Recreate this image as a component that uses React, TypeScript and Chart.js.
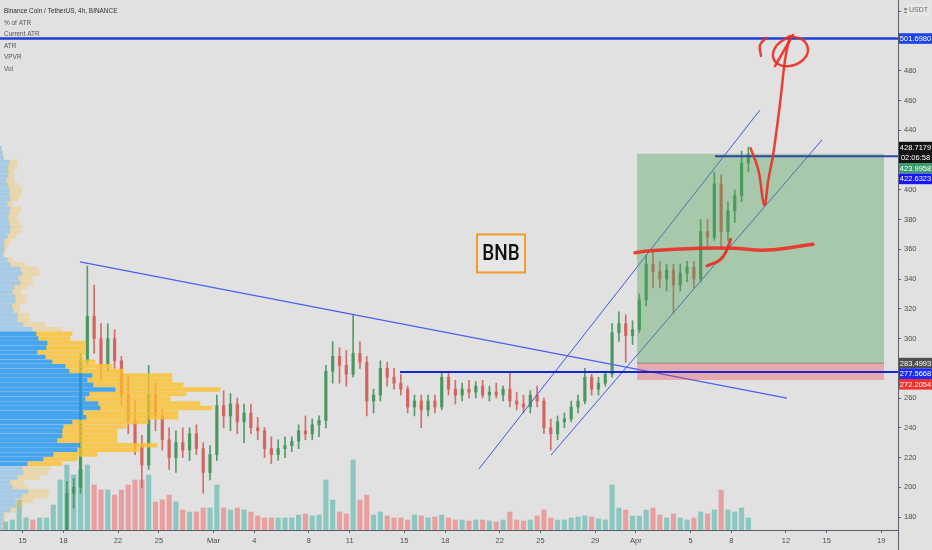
import React, { useEffect, useRef } from "react";
import { Chart, registerables } from "chart.js";

Chart.register(...registerables);

// ---------- time axis: days since 2021-02-13 00:00, one candle = 12h ----------
const X_MIN = 0.342;
const X_MAX = 66.226;
const FIRST_CANDLE_DAY = 0.75; // centre of first 12h candle
const CANDLE_DAYS = 0.5;

const X_TICK_DAYS = [2, 5, 9, 12, 16, 19, 23, 26, 30, 33, 37, 40, 44, 47, 51, 54, 58, 61, 65];
const X_TICK_LABELS = ["15", "18", "22", "25", "Mar", "4", "8", "11", "15", "18", "22", "25", "29", "Apr", "5", "8", "12", "15", "19"];

// ---------- price axis ----------
const PRICE_MIN = 171.3;
const PRICE_MAX = 527.6;
const PRICE_TICKS = [180, 200, 220, 240, 260, 280, 300, 320, 340, 360, 380, 400, 420, 440, 460, 480, 500, 520];

// ---------- BNB/USDT 12h OHLC ----------
const OPEN = [
  131, 134, 137, 139, 141, 138, 140, 146, 152, 163,
  196, 200, 285, 315, 300, 283, 300, 285, 262, 245,
  228, 215, 262, 248, 232, 220, 230, 225, 236, 226,
  210, 222, 255, 248, 256, 244, 250, 240, 238, 226,
  222, 226, 228, 231, 238, 236, 242, 245, 278, 288,
  282, 276, 290, 284, 258, 262, 280, 274, 270, 266,
  254, 258, 252, 258, 254, 274, 266, 262, 266, 264,
  268, 262, 264, 262, 266, 258, 256, 254, 262, 258,
  240, 236, 244, 246, 254, 258, 274, 266, 270, 276,
  304, 310, 302, 306, 326, 350, 345, 340, 346, 336,
  344, 348, 340, 372, 368, 404, 372, 386, 396, 418,
];
const HIGH = [
  136, 139, 141, 144, 145, 142, 148, 156, 166, 204,
  206, 290, 348.7, 336, 310, 310, 306, 288, 275, 258,
  235, 282, 270, 252, 240, 238, 240, 240, 242, 230,
  228, 262, 265, 263, 260, 256, 256, 247, 240, 234,
  232, 234, 234, 242, 248, 246, 248, 282, 298, 294,
  292, 316, 298, 288, 266, 285, 284, 280, 276, 268,
  262, 262, 262, 262, 277, 278, 272, 270, 272, 271,
  272, 268, 270, 268, 277, 264, 262, 265, 268, 260,
  246, 248, 250, 258, 262, 280, 276, 274, 278, 310,
  318, 316, 312, 330, 356, 360, 352, 350, 350, 350,
  352, 352, 380, 380, 412, 410, 392, 400, 426, 428.7179,
];
const LOW = [
  127, 130, 133, 135, 136, 133, 138, 144, 150, 160,
  186, 196, 283, 290, 272, 278, 280, 255, 236, 222,
  200, 212, 238, 225, 212, 210, 220, 218, 222, 196,
  205, 218, 240, 238, 236, 230, 236, 232, 220, 216,
  218, 220, 224, 226, 232, 232, 234, 240, 270, 270,
  268, 274, 280, 248, 250, 258, 268, 266, 262, 250,
  248, 240, 248, 250, 252, 262, 256, 258, 260, 260,
  260, 258, 260, 258, 254, 252, 250, 250, 254, 236,
  225, 232, 240, 244, 250, 256, 262, 262, 268, 274,
  298, 284, 296, 304, 322, 334, 334, 332, 317, 332,
  338, 334, 338, 362, 366, 360, 366, 378, 392, 412,
];
const CLOSE = [
  134, 137, 139, 141, 138, 140, 146, 152, 163, 196,
  200, 285, 315, 300, 283, 300, 285, 262, 245, 228,
  215, 262, 248, 232, 220, 230, 225, 236, 226, 210,
  222, 255, 248, 256, 244, 250, 240, 238, 226, 222,
  226, 228, 231, 238, 236, 242, 245, 278, 288, 282,
  276, 290, 284, 258, 262, 280, 274, 270, 266, 254,
  258, 252, 258, 254, 274, 266, 262, 266, 264, 268,
  262, 264, 262, 266, 258, 256, 254, 262, 258, 240,
  236, 244, 246, 254, 258, 274, 266, 270, 276, 304,
  310, 302, 306, 326, 350, 345, 340, 346, 336, 344,
  348, 340, 372, 368, 404, 372, 386, 396, 418, 423.9958,
];
// volume per 12h candle (thousand BNB)
const VOLUME = [
  80, 100, 300, 120, 100, 120, 120, 250, 500, 650,
  550, 600, 650, 450, 400, 400, 350, 400, 450, 500,
  500, 550, 280, 300, 350, 280, 200, 180, 180, 220,
  220, 450, 220, 200, 220, 200, 180, 140, 120, 120,
  120, 120, 120, 150, 160, 140, 150, 500, 300, 180,
  160, 700, 300, 350, 150, 180, 140, 120, 120, 100,
  150, 140, 120, 130, 150, 120, 100, 100, 90, 100,
  100, 90, 80, 100, 180, 100, 90, 100, 140, 200,
  120, 100, 100, 120, 130, 140, 130, 110, 100, 450,
  220, 200, 140, 140, 200, 220, 150, 120, 160, 120,
  100, 120, 180, 160, 200, 400, 200, 180, 220, 120,
];
const VOLUME_AXIS_MAX = 5300;

// ---------- Volume profile (VPVR) ----------
const VP_FIRST_ROW = 428.0;
const VP_ROW_STEP = 3.12;
const VP_UP = [
  1, 2, 3, 9, 8, 8, 8, 6, 8, 9,
  9, 10, 7, 10, 9, 8, 9, 10, 9, 7,
  4, 4, 4, 3, 7, 10, 20, 22, 18, 20,
  14, 12, 15, 15, 12, 13, 17, 17, 23, 32,
  36, 38, 47, 46, 37, 45, 52, 65, 69, 92,
  87, 93, 115, 89, 85, 98, 100, 83, 86, 72,
  63, 62, 62, 57, 80, 77, 53, 43, 27, 22,
  23, 17, 10, 12, 28, 22, 15, 16, 10, 3,
  3, 2, 2,
];
const VP_DOWN = [
  0.5, 0.5, 1, 8, 9, 5, 6, 8, 11, 13,
  12, 8, 5, 11, 10, 8, 10, 12, 12, 9,
  7, 4, 2, 1, 5, 15, 18, 17, 14, 13,
  13, 9, 10, 11, 7, 7, 12, 13, 22, 29,
  36, 32, 38, 39, 48, 38, 43, 47, 54, 80,
  85, 90, 105, 97, 85, 102, 112, 95, 92, 76,
  63, 55, 55, 60, 77, 62, 44, 34, 35, 28,
  25, 23, 13, 15, 21, 25, 18, 7, 6, 3,
  2, 1, 1,
];
const VA_FIRST_ROW = 40;
const VA_LAST_ROW = 68;
const VP_AXIS_MAX = 898;

// ---------- drawings (day, price) ----------
const LEVEL_TOP = 501.698;
const LEVEL_RES = 422.6323;
const LEVEL_RES_START = 52.8;
const LEVEL_SUP = 277.5668;
const LEVEL_SUP_START = 29.69;
const LAST_HIGH = 428.7179;
const LAST_PRICE = 423.9958;
const COUNTDOWN = "02:06:58";
const POS_START = 47.08;
const POS_END = 65.2;
const POS_TARGET = 424.2;
const POS_ENTRY = 283.4993;
const POS_STOP = 272.2054;

const TRENDLINE = [[6.21, 351.5], [58.08, 260.0]];
const CHANNEL_UPPER = [[35.48, 212.3], [56.1, 453.6]];
const CHANNEL_LOWER = [[40.77, 221.7], [60.65, 433.5]];

const RED_LEVEL = [[46.93, 357.7], [48.03, 359.1], [51.7, 360.7], [54.12, 360.7], [56.61, 359.5], [59.99, 363.4]];
const RED_HOOK = [[52.21, 348.8], [53.17, 352.8], [53.61, 358.4], [53.95, 366.7]];
const RED_ARROW = [[55.42, 427.9], [55.98, 413.3], [56.42, 389.8], [56.71, 406.6], [57.08, 424.5], [57.57, 458.2], [57.94, 487.3], [58.23, 500.7]];
const RED_CIRCLE = [[58.3, 503.4], [59.25, 500.7], [59.62, 494.0], [59.25, 487.3], [58.3, 483.2], [57.42, 484.6], [57.05, 490.0], [57.35, 497.3], [58.16, 502.7]];
const RED_SLASH = [[57.2, 483.2], [58.52, 504.1]];
const RED_ARC = [[56.54, 502.1], [56.1, 497.3], [56.17, 490.0]];

const BNB_NOTE = { day: 37.1, price: 357.2, text: "BNB" };

const LEGEND_LINES = ["Binance Coin / TetherUS, 4h, BINANCE", "% of ATR", "Current ATR", "ATR", "VPVR", "Vol"];

const PRICE_TAGS = [
  { value: LEVEL_TOP, bg: "#1e44e6" },
  { value: LAST_HIGH, bg: "#141414", sub: COUNTDOWN },
  { value: LAST_PRICE, bg: "#3d9b6e" },
  { value: LEVEL_RES, bg: "#1515ff" },
  { value: POS_ENTRY, bg: "#4f4f4f" },
  { value: LEVEL_SUP, bg: "#1a2cff" },
  { value: POS_STOP, bg: "#f0302a" },
];

// ---------- styles ----------
const BG = "#e1e1e1";
const AXIS = "#5b5e6b";
const TEXT = "#4d4d4d";
const FONT = "'Liberation Sans', Arial, sans-serif";
const UP = "rgba(70,150,92,0.92)";
const DOWN = "rgba(212,98,92,0.92)";
const VOL_UP = "rgba(38,166,154,0.45)";
const VOL_DOWN = "rgba(239,83,80,0.45)";
const RED_PEN = "rgba(236,46,36,0.9)";
const TAG_H = 10.6;

const candleDay = (i: number) => FIRST_CANDLE_DAY + i * CANDLE_DAYS;
const isUp = (i: number) => CLOSE[i] >= OPEN[i];
const vpRowPrice = (r: number) => VP_FIRST_ROW - r * VP_ROW_STEP;
const inVA = (r: number) => r >= VA_FIRST_ROW && r <= VA_LAST_ROW;

function lineDs(pts: number[][], color: string, width: number, order: number, extra: any = {}) {
  return {
    type: "line",
    data: pts.map(([x, y]) => ({ x, y })),
    borderColor: color,
    borderWidth: width,
    pointRadius: 0,
    pointHoverRadius: 0,
    fill: false,
    tension: 0,
    order,
    xAxisID: "x",
    yAxisID: "y",
    ...extra,
  };
}

const overlayPlugin = {
  id: "tvOverlay",
  beforeDatasetsDraw(chart: any) {
    const c = chart.ctx;
    c.save();
    c.font = `7px ${FONT}`;
    c.textBaseline = "middle";
    c.textAlign = "left";
    LEGEND_LINES.forEach((t, i) => {
      c.fillStyle = i === 0 ? "#2f2f2f" : "#555555";
      c.save();
      c.translate(4, 11 + i * 11.6);
      c.scale(0.92, 1);
      c.fillText(t, 0, 0);
      c.restore();
    });
    c.restore();
  },
  afterDatasetsDraw(chart: any) {
    const c = chart.ctx;
    const xs = chart.scales.x;
    const ys = chart.scales.y;
    const area = chart.chartArea;

    // BNB note
    const bx = xs.getPixelForValue(BNB_NOTE.day);
    const by = ys.getPixelForValue(BNB_NOTE.price);
    c.save();
    c.fillStyle = "#e6e6e6";
    c.fillRect(bx - 24, by - 19, 48, 38);
    c.strokeStyle = "#f39a2b";
    c.lineWidth = 2;
    c.strokeRect(bx - 24, by - 19, 48, 38);
    c.fillStyle = "#111111";
    c.font = `500 22px Roboto, ${FONT}`;
    c.textAlign = "center";
    c.textBaseline = "middle";
    c.translate(bx, by + 1);
    c.scale(0.86, 1);
    c.fillText(BNB_NOTE.text, 0, 0);
    c.restore();

    // price axis line continues through the time axis row
    c.save();
    c.strokeStyle = AXIS;
    c.lineWidth = 1;
    c.beginPath();
    c.moveTo(area.right + 0.5, area.bottom);
    c.lineTo(area.right + 0.5, chart.height);
    c.stroke();

    // currency tag
    c.fillStyle = "#e6e6e6";
    c.fillRect(907, 4, 23, 12);
    c.fillStyle = "#707070";
    c.font = `7px ${FONT}`;
    c.textAlign = "center";
    c.textBaseline = "middle";
    c.fillText("USDT", 918.5, 10);

    // price tags with simple stacking
    const items = PRICE_TAGS.map((t) => ({
      ...t,
      y: ys.getPixelForValue(t.value),
      h: t.sub ? TAG_H * 2 : TAG_H,
      top: 0,
    })).sort((a, b) => a.y - b.y);
    let prevBottom = -Infinity;
    for (const it of items) {
      let top = it.y - TAG_H / 2;
      if (top < prevBottom) top = prevBottom;
      it.top = top;
      prevBottom = top + it.h;
    }
    const left = area.right + 1;
    const w = chart.width - left;
    c.font = `7.5px ${FONT}`;
    for (const it of items) {
      c.fillStyle = it.bg;
      c.fillRect(left, it.top, w, it.h);
      c.fillStyle = "#ffffff";
      c.fillText(it.value.toFixed(4), left + w / 2, it.top + TAG_H / 2 + 0.5);
      if (it.sub) c.fillText(it.sub, left + w / 2, it.top + TAG_H * 1.5 + 0.5);
    }
    c.restore();
  },
};

function buildConfig() {
  const n = CLOSE.length;
  const idx = Array.from({ length: n }, (_, i) => i);

  const datasets: any[] = [];

  // red hand drawings (top)
  const redOpts = { tension: 0.4, borderCapStyle: "round", borderJoinStyle: "round" };
  datasets.push(lineDs(RED_LEVEL, RED_PEN, 3.5, 0, redOpts));
  datasets.push(lineDs(RED_HOOK, RED_PEN, 3, 0, redOpts));
  datasets.push(lineDs(RED_ARROW, RED_PEN, 2.5, 0, redOpts));
  datasets.push(lineDs([...RED_CIRCLE, RED_CIRCLE[0]], RED_PEN, 2.5, 0, redOpts));
  datasets.push(lineDs(RED_SLASH, RED_PEN, 2.5, 0, redOpts));
  datasets.push(lineDs(RED_ARC, RED_PEN, 2.5, 0, redOpts));

  // horizontal levels
  datasets.push(lineDs([[X_MIN - 1, LEVEL_TOP], [X_MAX + 1, LEVEL_TOP]], "#1c3fd6", 2.5, 2));
  datasets.push(lineDs([[LEVEL_RES_START, LEVEL_RES], [X_MAX + 1, LEVEL_RES]], "#2c48a6", 2, 2));
  datasets.push(lineDs([[LEVEL_SUP_START, LEVEL_SUP], [X_MAX + 1, LEVEL_SUP]], "#1428d0", 2, 2));

  // long position tool: target -> entry (green), entry -> stop (red)
  datasets.push(lineDs([[POS_START, POS_TARGET], [POS_END, POS_TARGET]], "transparent", 0, 3, {
    fill: "+1",
    backgroundColor: "rgba(76,160,84,0.38)",
  }));
  datasets.push(lineDs([[POS_START, POS_ENTRY], [POS_END, POS_ENTRY]], "rgba(120,120,120,0.8)", 1, 3, {
    fill: "+1",
    backgroundColor: "rgba(242,54,69,0.32)",
  }));
  datasets.push(lineDs([[POS_START, POS_STOP], [POS_END, POS_STOP]], "transparent", 0, 3));

  // trend line and channel
  datasets.push(lineDs(TRENDLINE, "#4c5ff0", 1.2, 4));
  datasets.push(lineDs(CHANNEL_UPPER, "#3f58e8", 1, 4));
  datasets.push(lineDs(CHANNEL_LOWER, "#3f58e8", 1, 4));

  // volume profile
  const rows = VP_UP.map((_, r) => r);
  datasets.push({
    type: "bar",
    indexAxis: "y",
    xAxisID: "xv",
    yAxisID: "y",
    data: rows.map((r) => ({ x: [0, VP_UP[r]], y: vpRowPrice(r) })),
    backgroundColor: rows.map((r) => (inVA(r) ? "rgba(33,150,243,0.8)" : "rgba(33,150,243,0.3)")),
    barThickness: 3.8,
    grouped: false,
    order: 5,
  });
  datasets.push({
    type: "bar",
    indexAxis: "y",
    xAxisID: "xv",
    yAxisID: "y",
    data: rows.map((r) => ({ x: [VP_UP[r], VP_UP[r] + VP_DOWN[r]], y: vpRowPrice(r) })),
    backgroundColor: rows.map((r) => (inVA(r) ? "rgba(251,192,45,0.8)" : "rgba(251,192,45,0.3)")),
    barThickness: 3.8,
    grouped: false,
    order: 5,
  });

  // candles
  datasets.push({
    type: "bar",
    xAxisID: "x",
    yAxisID: "y",
    data: idx.map((i) => ({ x: candleDay(i), y: [OPEN[i], CLOSE[i]] })),
    backgroundColor: idx.map((i) => (isUp(i) ? UP : DOWN)),
    barThickness: 2.6,
    minBarLength: 1,
    grouped: false,
    order: 6,
  });
  datasets.push({
    type: "bar",
    xAxisID: "x",
    yAxisID: "y",
    data: idx.map((i) => ({ x: candleDay(i), y: [LOW[i], HIGH[i]] })),
    backgroundColor: idx.map((i) => (isUp(i) ? UP : DOWN)),
    barThickness: 1,
    grouped: false,
    order: 7,
  });

  // volume
  datasets.push({
    type: "bar",
    xAxisID: "x",
    yAxisID: "yv",
    data: idx.map((i) => ({ x: candleDay(i), y: VOLUME[i] })),
    backgroundColor: idx.map((i) => (isUp(i) ? VOL_UP : VOL_DOWN)),
    barThickness: 4.5,
    grouped: false,
    order: 8,
  });

  const tickFont = { family: FONT, size: 7.5 };

  return {
    type: "line",
    data: { datasets },
    options: {
      animation: false,
      responsive: false,
      maintainAspectRatio: false,
      events: [],
      layout: { padding: 0 },
      plugins: { legend: { display: false }, tooltip: { enabled: false } },
      scales: {
        x: {
          type: "linear",
          position: "bottom",
          min: X_MIN,
          max: X_MAX,
          offset: false,
          grid: { display: true, offset: false, drawOnChartArea: false, drawTicks: true, tickLength: 3, color: AXIS },
          border: { display: true, color: AXIS, width: 1 },
          ticks: {
            autoSkip: false,
            maxRotation: 0,
            padding: 3,
            color: TEXT,
            font: tickFont,
            callback: (_v: any, i: number) => X_TICK_LABELS[i],
          },
          afterBuildTicks: (s: any) => {
            s.ticks = X_TICK_DAYS.map((v) => ({ value: v }));
          },
          afterFit: (s: any) => {
            s.height = 20;
            s.paddingLeft = 0;
            s.paddingRight = 0;
          },
        },
        y: {
          type: "linear",
          position: "right",
          min: PRICE_MIN,
          max: PRICE_MAX,
          offset: false,
          beginAtZero: false,
          grid: { display: true, offset: false, drawOnChartArea: false, drawTicks: true, tickLength: 3, color: AXIS },
          border: { display: true, color: AXIS, width: 1 },
          ticks: { padding: 3, color: TEXT, font: tickFont },
          afterBuildTicks: (s: any) => {
            s.ticks = PRICE_TICKS.map((v) => ({ value: v }));
          },
          afterFit: (s: any) => {
            s.width = 34;
            s.paddingTop = 0;
            s.paddingBottom = 0;
          },
        },
        yv: { type: "linear", display: false, offset: false, min: 0, max: VOLUME_AXIS_MAX },
        xv: { type: "linear", display: false, offset: false, position: "bottom", min: 0, max: VP_AXIS_MAX },
      },
    },
    plugins: [overlayPlugin],
  };
}

export default function App() {
  const canvasRef = useRef<HTMLCanvasElement | null>(null);
  useEffect(() => {
    document.body.style.margin = "0";
    document.body.style.background = BG;
    const canvas = canvasRef.current;
    if (!canvas) return;
    Chart.defaults.font.family = FONT;
    const chart = new Chart(canvas, buildConfig() as any);
    return () => chart.destroy();
  }, []);
  return (
    <div style={{ width: 932, height: 550, background: BG, overflow: "hidden" }}>
      <canvas ref={canvasRef} width={932} height={550} style={{ display: "block", width: "932px", height: "550px" }} />
    </div>
  );
}
